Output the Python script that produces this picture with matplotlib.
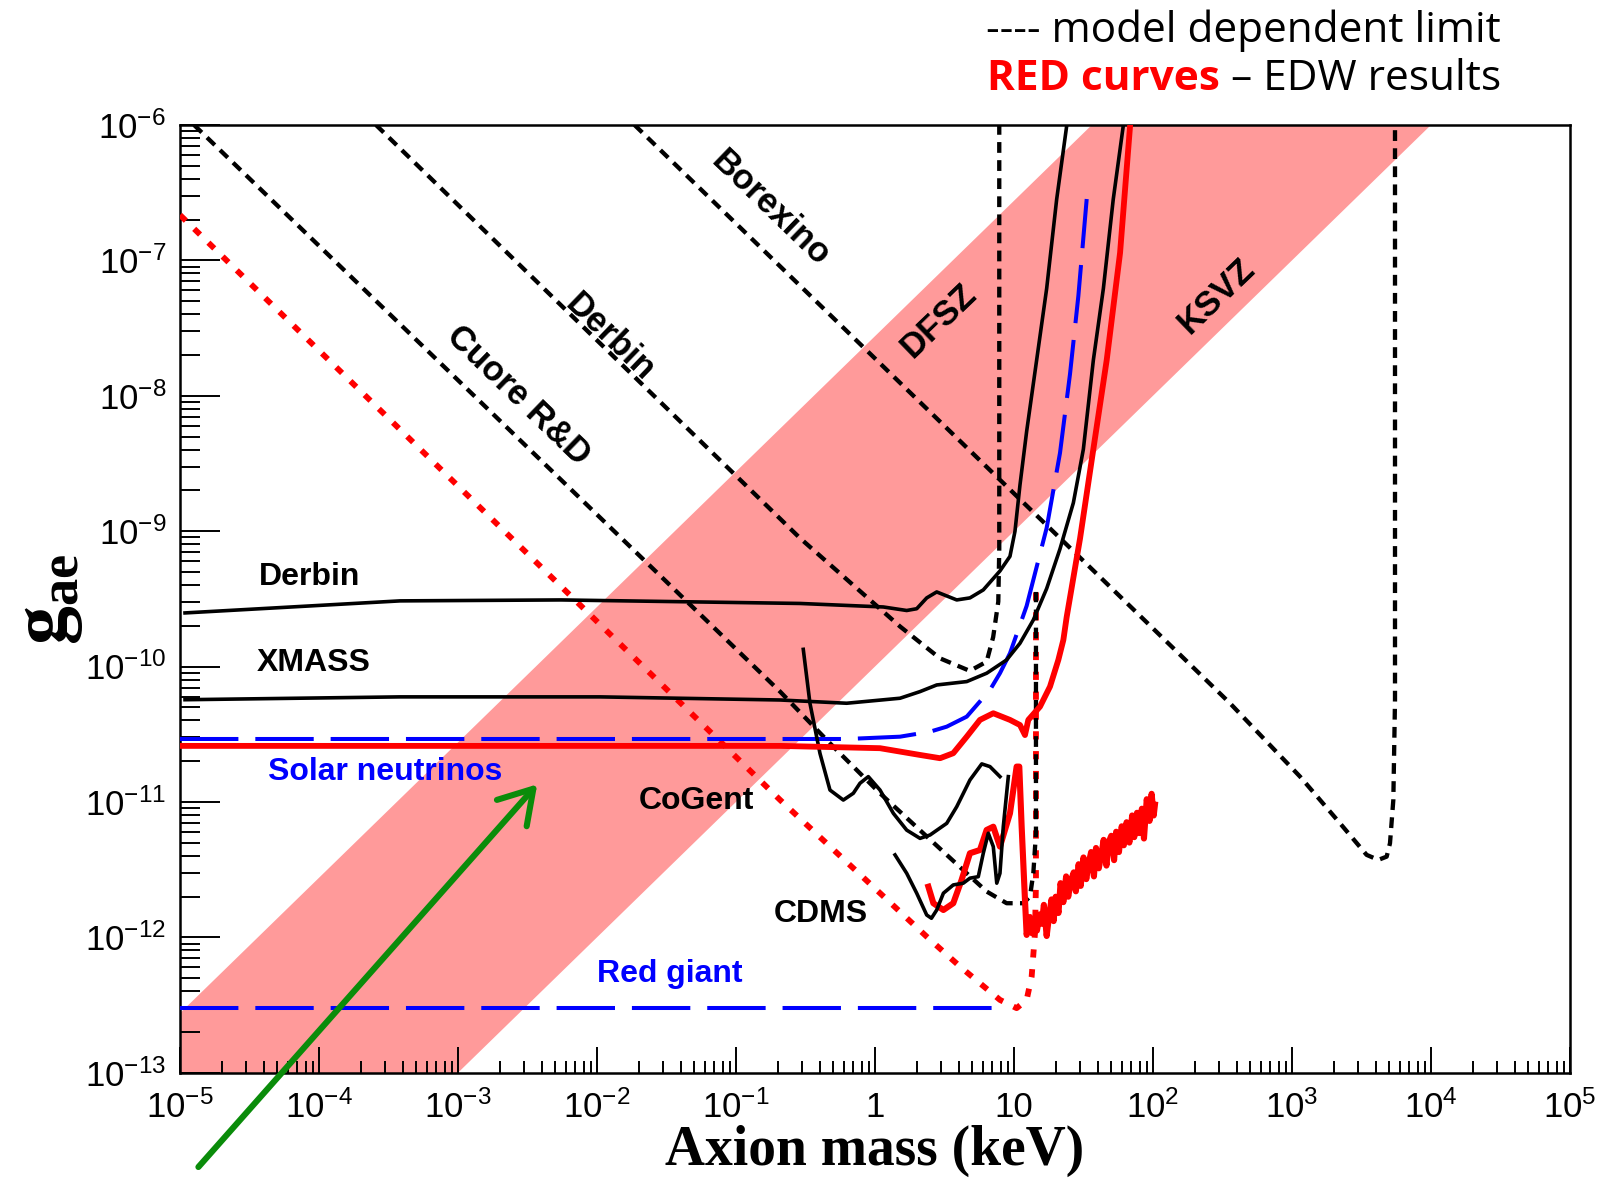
import numpy as np
import matplotlib
matplotlib.use('Agg')
from matplotlib import pyplot as plt
from matplotlib.ticker import LogLocator, NullFormatter, FuncFormatter
from matplotlib.patches import ConnectionPatch

plt.rcParams['font.family'] = ['Liberation Sans', 'DejaVu Sans']
plt.rcParams['mathtext.fontset'] = 'custom'
plt.rcParams['mathtext.rm'] = 'Liberation Sans'
plt.rcParams['mathtext.bf'] = 'Liberation Serif:bold'
plt.rcParams['mathtext.default'] = 'rm'

# all values are log10(axion mass / keV) and log10(g_ae)

# DFSZ / KSVZ band edges
band_logm = [-5, 5]
band_lo = [-15, -5]
band_hi = [-12.56, -2.56]

# red giant limit
rg_logm = [-5, 0.90]
rg_logg = [-12.52, -12.52]

# solar neutrinos limit
sol_logm = [-5, -0.2, 0.18, 0.396, 0.516, 0.66, 0.827, 0.899, 0.971, 1.091,
            1.235, 1.331, 1.403, 1.463, 1.523]
sol_logg = [-10.535, -10.535, -10.518, -10.481, -10.444, -10.37, -10.173,
            -10.049, -9.902, -9.552, -8.976, -8.422, -7.839, -7.263, -6.547]

# EDW solar axion limit (red solid)
edw_sol_logm = [-5, -0.683, 0.036, 0.324, 0.468, 0.563, 0.66, 0.755, 0.851,
                0.971, 1.043, 1.079, 1.103, 1.187, 1.259, 1.319, 1.355, 1.379,
                1.475, 1.571, 1.667, 1.763, 1.835]
edw_sol_logg = [-10.586, -10.586, -10.603, -10.653, -10.677, -10.64, -10.518,
                -10.394, -10.345, -10.394, -10.432, -10.506, -10.394, -10.296,
                -10.148, -9.951, -9.804, -9.634, -9.055, -8.393, -7.736,
                -6.945, -6.007]

# EDW dark matter axion limit (red solid, noisy)
edw_dm_logm = [0.384, 0.42, 0.492, 0.563, 0.623, 0.683, 0.755, 0.803, 0.851,
               0.899, 0.971, 1.019, 1.038, 1.055, 1.079, 1.091, 1.115, 1.13,
               1.15, 1.165, 1.185, 1.2, 1.215, 1.235, 1.25, 1.27, 1.285, 1.3,
               1.32, 1.335, 1.355, 1.375, 1.39, 1.41, 1.43, 1.445, 1.465, 1.48,
               1.5, 1.52, 1.54, 1.555, 1.575, 1.59, 1.61, 1.63, 1.645, 1.665,
               1.68, 1.7, 1.72, 1.735, 1.755, 1.775, 1.79, 1.81, 1.83, 1.85,
               1.865, 1.885, 1.9, 1.92, 1.935, 1.955, 1.975, 1.99, 2.005, 2.014]
edw_dm_logg = [-11.626, -11.748, -11.798, -11.748, -11.576, -11.379, -11.355,
               -11.207, -11.183, -11.33, -11.084, -10.739, -10.739, -11.182,
               -11.724, -11.982, -11.85, -11.97, -11.86, -11.95, -11.83,
               -11.90, -11.76, -11.99, -11.86, -11.72, -11.88, -11.70, -11.82,
               -11.60, -11.74, -11.55, -11.70, -11.58, -11.52, -11.66, -11.46,
               -11.62, -11.41, -11.57, -11.44, -11.37, -11.55, -11.34, -11.49,
               -11.38, -11.28, -11.47, -11.30, -11.25, -11.43, -11.22, -11.37,
               -11.18, -11.32, -11.15, -11.30, -11.10, -11.26, -11.08, -11.23,
               -11.05, -11.27, -10.98, -11.14, -10.94, -11.10, -11.02]

# EDW model dependent limit (red dotted)
edw_md_logm = [-5, -0.683, 0.372, 0.612, 0.755, 0.899, 1.019, 1.091, 1.127,
               1.151, 1.158, 1.158]
edw_md_logg = [-6.665, -10.985, -11.995, -12.216, -12.339, -12.462, -12.523,
               -12.462, -12.29, -11.969, -11.598, -9.449]

# Derbin (solid)
derbin_logm = [-4.964, -3.417, -2.259, -0.54, 0.06, 0.228, 0.3, 0.372, 0.444,
               0.588, 0.683, 0.779, 0.899, 0.971, 1.007, 1.043, 1.091, 1.163,
               1.235, 1.307, 1.379]
derbin_logg = [-9.604, -9.515, -9.508, -9.534, -9.56, -9.586, -9.573, -9.493,
               -9.449, -9.508, -9.493, -9.434, -9.294, -9.186, -9.001, -8.659,
               -8.263, -7.736, -7.208, -6.549, -6.007]

# XMASS
xmass_logm = [-4.964, -3.417, -1.978, -0.683, -0.204, 0.18, 0.324, 0.444, 0.66,
              0.804, 0.947, 1.043, 1.139, 1.235, 1.331, 1.427, 1.499, 1.571,
              1.643, 1.714, 1.786]
xmass_logg = [-10.245, -10.224, -10.224, -10.247, -10.271, -10.234, -10.185,
              -10.136, -10.111, -10.049, -9.951, -9.828, -9.656, -9.424,
              -9.131, -8.791, -8.395, -7.736, -7.208, -6.549, -6.007]

# CoGent
cogent_logm = [-0.516, -0.468, -0.396, -0.324, -0.228, -0.156, -0.108, -0.048,
               0.036, 0.132, 0.228, 0.324, 0.396, 0.516, 0.588, 0.683, 0.768,
               0.827, 0.899]
cogent_logg = [-9.873, -10.271, -10.641, -10.912, -10.986, -10.936, -10.862,
               -10.813, -10.912, -11.084, -11.208, -11.269, -11.244, -11.158,
               -11.035, -10.838, -10.719, -10.739, -10.813]

# CDMS
cdms_logm = [0.144, 0.228, 0.3, 0.372, 0.406, 0.444, 0.492, 0.563, 0.635,
             0.683, 0.743, 0.779, 0.815, 0.851, 0.876, 0.899, 0.923, 0.959]
cdms_logg = [-11.391, -11.527, -11.674, -11.835, -11.859, -11.798, -11.674,
             -11.613, -11.6, -11.563, -11.552, -11.379, -11.231, -11.33, -11.6,
             -11.527, -11.182, -10.813]

# model dependent limits (black dotted)
cuore_logm = [-4.899, -0.683, -0.324, 0.036, 0.347, 0.66, 0.804, 0.947, 1.067,
              1.115, 1.139, 1.158, 1.158]
cuore_logg = [-6.0, -10.185, -10.567, -10.936, -11.231, -11.527, -11.662,
              -11.748, -11.748, -11.699, -11.527, -11.231, -9.449]

derbin_md_logm = [-3.59, -0.539, 0.18, 0.467, 0.682, 0.803, 0.85, 0.887, 0.894,
                  0.894]
derbin_md_logg = [-6.0, -9.052, -9.704, -9.939, -10.032, -9.964, -9.783, -9.52,
                  -9.13, -6.0]

borexino_logm = [-1.73, 2.554, 3.058, 3.345, 3.537, 3.621, 3.681, 3.705, 3.729,
                 3.741, 3.741]
borexino_logg = [-6.0, -10.271, -10.813, -11.157, -11.391, -11.428, -11.404,
                 -11.305, -10.985, -10.247, -6.0]


def p(a):
    return 10.0 ** np.array(a)


fig = plt.figure(figsize=(16, 11.8), dpi=100)
ax = fig.add_axes([0.1125, 0.0909, 0.86875, 0.8032])
ax.set_xscale('log')
ax.set_yscale('log')

ax.fill_between(p(band_logm), p(band_lo), p(band_hi), color='#ff9a9a', lw=0, zorder=1)

dot_k = dict(color='black', lw=3.1, linestyle=(0, (2.5, 1.7)), zorder=4)
ax.plot(p(cuore_logm), p(cuore_logg), **dot_k)
ax.plot(p(derbin_md_logm), p(derbin_md_logg), **dot_k)
ax.plot(p(borexino_logm), p(borexino_logg), **dot_k)

ax.plot(p(edw_md_logm), p(edw_md_logg), color='#ff0000', lw=4.2,
        linestyle=(0, (1.4, 2.0)), zorder=3)

dash_b = dict(color='#0000ff', lw=2.9, linestyle=(0, (14.5, 4.2)), zorder=5)
ax.plot(p(rg_logm), p(rg_logg), **dash_b)
ax.plot(p(sol_logm), p(sol_logg), **dash_b)

ax.plot(p(derbin_logm), p(derbin_logg), color='black', lw=2.6, zorder=5)
ax.plot(p(xmass_logm), p(xmass_logg), color='black', lw=2.6, zorder=5)
ax.plot(p(cogent_logm), p(cogent_logg), color='black', lw=2.6, zorder=5)

ax.plot(p(edw_sol_logm), p(edw_sol_logg), color='#ff0000', lw=4.2, zorder=6)
ax.plot(p(edw_dm_logm), p(edw_dm_logg), color='#ff0000', lw=4.4, zorder=6)
ax.plot(p(cdms_logm), p(cdms_logg), color='black', lw=2.6, zorder=7)

ax.set_xlim(1e-5, 1e5)
ax.set_ylim(1e-13, 1e-6)


def xfmt(v, pos):
    e = int(round(np.log10(v)))
    if e == 0:
        return '1'
    if e == 1:
        return '10'
    return r'$10^{%d}$' % e


def yfmt(v, pos):
    return r'$10^{%d}$' % int(round(np.log10(v)))


for axis in (ax.xaxis, ax.yaxis):
    axis.set_major_locator(LogLocator(base=10, numticks=30))
    axis.set_minor_locator(LogLocator(base=10, subs=np.arange(2, 10), numticks=300))
    axis.set_minor_formatter(NullFormatter())
ax.xaxis.set_major_formatter(FuncFormatter(xfmt))
ax.yaxis.set_major_formatter(FuncFormatter(yfmt))

ax.tick_params(axis='x', which='major', direction='in', length=19, width=1.4,
               labelsize=25, pad=13)
ax.tick_params(axis='x', which='minor', direction='in', length=8.5, width=1.4)
ax.tick_params(axis='y', which='major', direction='in', length=29, width=1.4,
               labelsize=25, pad=10)
ax.tick_params(axis='y', which='minor', direction='in', length=14.5, width=1.4)
for s in ax.spines.values():
    s.set_linewidth(1.8)

ax.set_xlabel('Axion mass (keV)', family='Liberation Serif', weight='bold',
              fontsize=40, labelpad=0)
ax.set_ylabel(r'$\mathbf{g}_{\mathbf{ae}}$', fontsize=56, labelpad=0)

# curve labels
lab = dict(fontsize=23, weight='bold', ha='center', va='center', zorder=10)
ax.text(8.5e-5, 4.6e-10, 'Derbin', **lab)
ax.text(9.2e-5, 1.06e-10, 'XMASS', **lab)
ax.text(3.0e-4, 1.67e-11, 'Solar neutrinos', color='#0000ff', **lab)
ax.text(0.052, 1.02e-11, 'CoGent', **lab)
ax.text(0.41, 1.49e-12, 'CDMS', **lab)
ax.text(0.0335, 5.37e-13, 'Red giant', color='#0000ff', **lab)

rot = dict(fontsize=25, weight='bold', ha='center', va='center', zorder=10,
           rotation_mode='anchor')
ax.text(2.7e-3, 1.0e-8, 'Cuore R&D', rotation=-44, **rot)
ax.text(0.0124, 2.7e-8, 'Derbin', rotation=-44, **rot)
ax.text(0.176, 2.4e-7, 'Borexino', rotation=-44, **rot)
ax.text(2.88, 3.6e-8, 'DFSZ', rotation=44, **rot)
ax.text(288, 5.5e-8, 'KSVZ', rotation=44, **rot)

# green arrow pointing at the solar neutrino region
arrow = ConnectionPatch(xyA=(0.124, 0.011), coordsA='figure fraction',
                        xyB=(10 ** -2.43, 10 ** -10.87), coordsB='data', axesB=ax,
                        arrowstyle='->,head_length=0.9,head_width=0.55',
                        mutation_scale=26, color='#0a8c0a', lw=4.4,
                        capstyle='round', joinstyle='round',
                        shrinkA=0, shrinkB=0, zorder=12)
fig.add_artist(arrow)

# legend-like notes at the top right
fig.text(0.616, 0.974, '---- model dependent limit', fontsize=30.5,
         family='Open Sans', va='center', ha='left')
fig.text(0.7627, 0.933, 'RED curves', fontsize=30.5, family='Open Sans',
         weight='bold', color='#ff0000', va='center', ha='right')
fig.text(0.7627, 0.933, ' \u2013 EDW results', fontsize=30.5, family='Open Sans',
         va='center', ha='left')

fig.savefig('out.png', dpi=100)
